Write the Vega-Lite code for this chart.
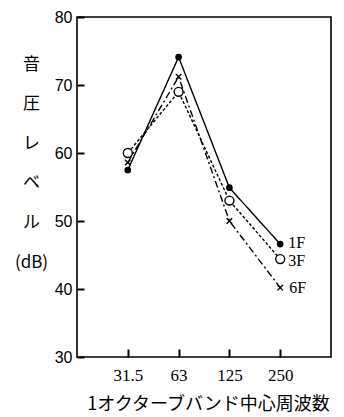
{
  "$schema": "https://vega.github.io/schema/vega-lite/v6.json",
  "width": 254,
  "height": 340,
  "autosize": {"type": "none"},
  "padding": {"left": 77, "top": 17, "right": 13, "bottom": 60},
  "background": "white",
  "config": {
    "view": {"stroke": "black", "strokeWidth": 1.6},
    "axis": {"grid": false, "domain": false, "labelColor": "black", "titleColor": "black"}
  },
  "data": {
    "values": [
      {"freq": "31.5", "series": "1F", "level": 57.5},
      {"freq": "63", "series": "1F", "level": 74.1},
      {"freq": "125", "series": "1F", "level": 54.9},
      {"freq": "250", "series": "1F", "level": 46.6},
      {"freq": "31.5", "series": "3F", "level": 60.0},
      {"freq": "63", "series": "3F", "level": 69.0},
      {"freq": "125", "series": "3F", "level": 53.0},
      {"freq": "250", "series": "3F", "level": 44.4},
      {"freq": "31.5", "series": "6F", "level": 58.6},
      {"freq": "63", "series": "6F", "level": 71.2},
      {"freq": "125", "series": "6F", "level": 50.0},
      {"freq": "250", "series": "6F", "level": 40.2}
    ]
  },
  "encoding": {
    "x": {
      "field": "freq", "type": "ordinal", "sort": ["31.5", "63", "125", "250"],
      "scale": {"type": "point", "padding": 1},
      "axis": {"labelAngle": 0, "offset": -8, "ticks": true, "tickSize": 8, "tickColor": "#000000", "tickWidth": 2, "tickOpacity": 1,
               "labelPadding": 10, "labelFont": "Liberation Serif", "labelFontSize": 17,
               "title": "1オクターブバンド中心周波数", "titleFont": "Noto Sans CJK JP", "titleFontSize": 18, "titleFontWeight": "normal",
               "titleY": 55, "titleBaseline": "middle", "titleX": 131}
    },
    "y": {
      "field": "level", "type": "quantitative",
      "scale": {"domain": [30, 80], "nice": false, "zero": false},
      "axis": {"values": [30, 40, 50, 60, 70, 80], "offset": -7, "ticks": true, "tickSize": 7, "tickColor": "#000000", "tickWidth": 2, "tickOpacity": 1,
               "labelPadding": 5, "labelFont": "Liberation Sans", "labelFontSize": 16,
               "title": ["音", "圧", "レ", "ベ", "ル", "(dB)"], "titleAngle": 0, "titleAlign": "center", "titleBaseline": "middle",
               "titleX": -53, "titleY": 47, "titleLineHeight": 39.6, "titleFont": "Noto Sans CJK JP", "titleFontSize": 17, "titleFontWeight": "normal"}
    }
  },
  "layer": [
    {
      "mark": {"type": "line", "color": "black", "strokeWidth": 1.4},
      "encoding": {
        "detail": {"field": "series"},
        "strokeDash": {"field": "series", "type": "nominal", "legend": null,
          "scale": {"domain": ["1F", "3F", "6F"], "range": [[1, 0], [3, 2], [7, 3, 2, 3]]}}
      }
    },
    {
      "transform": [{"filter": "datum.series === '1F'"}],
      "mark": {"type": "point", "shape": "circle", "filled": true, "color": "black", "size": 45, "opacity": 1}
    },
    {
      "transform": [{"filter": "datum.series === '3F'"}],
      "mark": {"type": "point", "shape": "circle", "filled": true, "fill": "white", "stroke": "black", "strokeWidth": 1.4, "size": 80, "opacity": 1}
    },
    {
      "transform": [{"filter": "datum.series === '6F'"}],
      "mark": {"type": "point", "shape": "M-1,-1L1,1M1,-1L-1,1", "filled": false, "color": "black", "strokeWidth": 1.4, "size": 30, "opacity": 1}
    },
    {
      "transform": [{"filter": "datum.freq === '250' && datum.series === '1F'"}],
      "mark": {"type": "text", "align": "left", "baseline": "middle", "dx": 8, "dy": -1, "font": "Liberation Serif", "fontSize": 16, "color": "black"},
      "encoding": {"text": {"field": "series"}}
    },
    {
      "transform": [{"filter": "datum.freq === '250' && datum.series === '3F'"}],
      "mark": {"type": "text", "align": "left", "baseline": "middle", "dx": 8, "dy": 2, "font": "Liberation Serif", "fontSize": 16, "color": "black"},
      "encoding": {"text": {"field": "series"}}
    },
    {
      "transform": [{"filter": "datum.freq === '250' && datum.series === '6F'"}],
      "mark": {"type": "text", "align": "left", "baseline": "middle", "dx": 9, "dy": 0, "font": "Liberation Serif", "fontSize": 16, "color": "black"},
      "encoding": {"text": {"field": "series"}}
    }
  ]
}
